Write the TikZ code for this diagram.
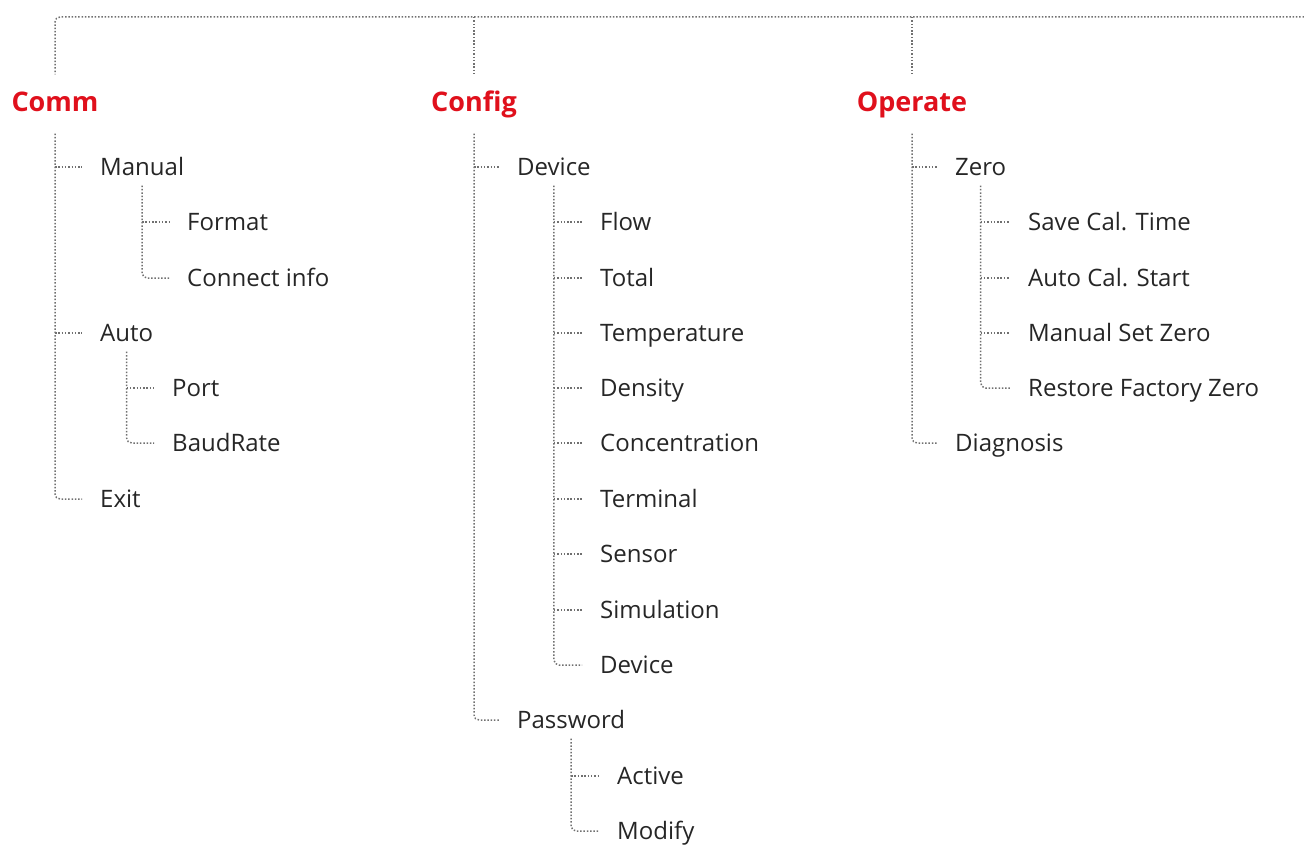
\documentclass[tikz,border=0pt]{standalone}
\usepackage{fontspec}
\setmainfont{Open Sans}
\definecolor{ttlred}{HTML}{E0101C}
\definecolor{txt}{HTML}{262626}
\definecolor{ln}{HTML}{707070}
\newcommand\tlast[3]{\draw[tree,rounded corners=5pt] ([yshift=-#3]#1.south) |- ([xshift=-18pt]#2.west);}
\newcommand\tmid[2]{\draw[tree] (#1.south |- #2.west) -- ([xshift=-18pt]#2.west);}
\begin{document}
\begin{tikzpicture}[x=1pt,y=-1pt,
 item/.style={anchor=west, inner sep=0pt, text height=17pt, text depth=0pt, font=\fontsize{24}{28}\selectfont, text=txt},
 ttl/.style={anchor=center, inner sep=0pt, text height=19pt, text depth=0pt, font=\fontsize{27}{31}\selectfont\bfseries, text=ttlred},
 tree/.style={draw=ln, line width=1.5pt, dash pattern=on 1.5pt off 1.8pt}]
\useasboundingbox (0,0) rectangle (1304,845);
% titles
\node[ttl] (comm) at (55,102) {Comm};
\node[ttl] (config) at (474,102) {Config};
\node[ttl] (operate) at (912,102) {Operate};
% Comm subtree
\node[item] (manual) at (100,167) {Manual};
\node[item] (format) at (187,222) {Format};
\node[item] (conn) at (187,278) {Connect info};
\node[item] (auto) at (100,333) {Auto};
\node[item] (port) at (172,388) {Port};
\node[item] (baud) at (172,443) {BaudRate};
\node[item] (exit) at (100,499) {Exit};
% Config subtree
\node[item] (device) at (517,167) {Device};
\node[item] (flow) at (600,222) {Flow};
\node[item] (total) at (600,278) {Total};
\node[item] (temp) at (600,333) {Temperature};
\node[item] (dens) at (600,388) {Density};
\node[item] (conc) at (600,443) {Concentration};
\node[item] (term) at (600,499) {Terminal};
\node[item] (sens) at (600,554) {Sensor};
\node[item] (simu) at (600,610) {Simulation};
\node[item] (dev2) at (600,665) {Device};
\node[item] (pass) at (517,720) {Password};
\node[item] (active) at (617,776) {Active};
\node[item] (modify) at (617,831) {Modify};
% Operate subtree
\node[item] (zero) at (955,167) {Zero};
\node[item] (save) at (1028,222) {Save Cal. Time};
\node[item] (autocal) at (1028,278) {Auto Cal. Start};
\node[item] (mset) at (1028,333) {Manual Set Zero};
\node[item] (restore) at (1028,388) {Restore Factory Zero};
\node[item] (diag) at (955,443) {Diagnosis};
% top connector
\coordinate (tr) at (1304,17);
\draw[tree,rounded corners=5pt] (tr) -| ([yshift=18pt]comm.north);
\draw[tree] (config.north |- tr) -- ([yshift=18pt]config.north);
\draw[tree] (operate.north |- tr) -- ([yshift=18pt]operate.north);
% Comm
\tmid{comm}{manual}
\tmid{comm}{auto}
\tlast{comm}{exit}{22pt}
\tmid{manual}{format}
\tlast{manual}{conn}{10pt}
\tmid{auto}{port}
\tlast{auto}{baud}{10pt}
% Config
\tmid{config}{device}
\tlast{config}{pass}{22pt}
\tmid{device}{flow}
\tmid{device}{total}
\tmid{device}{temp}
\tmid{device}{dens}
\tmid{device}{conc}
\tmid{device}{term}
\tmid{device}{sens}
\tmid{device}{simu}
\tlast{device}{dev2}{10pt}
\tmid{pass}{active}
\tlast{pass}{modify}{10pt}
% Operate
\tmid{operate}{zero}
\tlast{operate}{diag}{22pt}
\tmid{zero}{save}
\tmid{zero}{autocal}
\tmid{zero}{mset}
\tlast{zero}{restore}{10pt}
\end{tikzpicture}
\end{document}
